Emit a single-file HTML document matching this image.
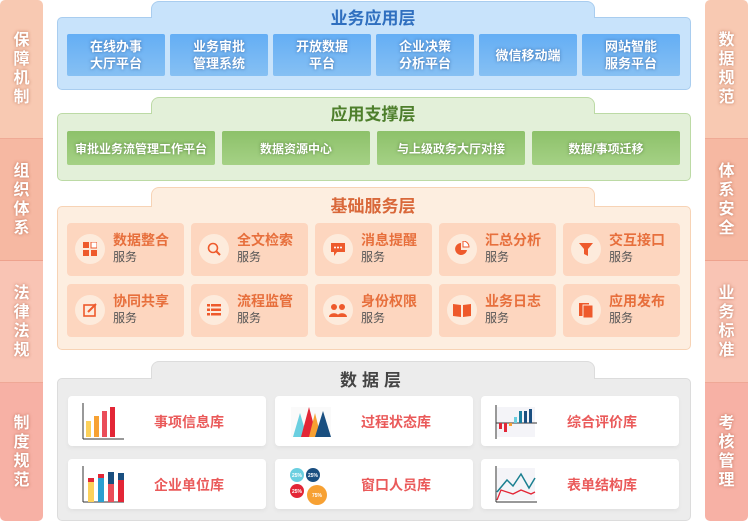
<!DOCTYPE html>
<html><head><meta charset="utf-8"><style>
*{margin:0;padding:0;box-sizing:border-box}
body{width:748px;height:522px;background:#fff;position:relative;overflow:hidden;font-family:"Liberation Sans","Noto Sans CJK SC",sans-serif;font-weight:bold}
.a{position:absolute}
.side{position:absolute;width:43px;border-radius:5px;overflow:hidden;top:0;height:521px}
.seg{position:absolute;left:0;width:43px;display:flex;align-items:center;justify-content:center;color:#fff;font-size:16px;line-height:19px;text-align:center;text-shadow:0 0 3px rgba(150,60,30,.6);border-bottom:1px solid rgba(230,140,120,.5)}
.box{position:absolute;border-radius:5px}
.tab{position:absolute;border-radius:8px 8px 0 0}
.title{position:absolute;font-size:17px;text-align:center}
.bb{position:absolute;top:34px;height:42px;width:98px;background:linear-gradient(#64aef5,#86c0f3);color:#fff;font-size:13px;line-height:17px;display:flex;align-items:center;justify-content:center;text-align:center;text-shadow:0 0 3px rgba(20,60,120,.6);border-radius:2px}
.gb{position:absolute;top:131px;height:34px;width:148px;background:linear-gradient(#8dc16a,#a5d185);color:#fff;font-size:12px;display:flex;align-items:center;justify-content:center;text-shadow:0 0 3px rgba(40,80,20,.6);border-radius:2px}
.oc{position:absolute;width:117px;height:53px;background:#fdd6bf;border-radius:4px}
.oc .ic{position:absolute;left:8px;top:11px;width:30px;height:30px;border-radius:50%;background:#fdebdc;display:flex;align-items:center;justify-content:center}
.oc .t{position:absolute;left:46px;top:9px;font-size:14px;color:#e76f3c;line-height:16px}
.oc .s{position:absolute;left:46px;top:27px;font-size:12px;color:#555;font-weight:normal;line-height:14px}
.dc{position:absolute;width:198px;height:50px;background:#fff;border-radius:4px;box-shadow:0 2px 4px rgba(0,0,0,.05)}
.dc .t{position:absolute;left:86px;top:16px;font-size:14px;color:#ea5a5a}
.dc svg{position:absolute;left:10px;top:7px}
</style></head><body>
<div class="side" style="left:0">
<div class="seg" style="top:0;height:139px;background:#f8c9b2">保<br>障<br>机<br>制</div>
<div class="seg" style="top:139px;height:122px;background:#f6b8a2">组<br>织<br>体<br>系</div>
<div class="seg" style="top:261px;height:122px;background:#f9c4b4">法<br>律<br>法<br>规</div>
<div class="seg" style="top:383px;height:138px;background:#f7b1a5;border:none">制<br>度<br>规<br>范</div>
</div>
<div class="side" style="left:705px">
<div class="seg" style="top:0;height:139px;background:#f8c9b2">数<br>据<br>规<br>范</div>
<div class="seg" style="top:139px;height:122px;background:#f6b8a2">体<br>系<br>安<br>全</div>
<div class="seg" style="top:261px;height:122px;background:#f9c4b4">业<br>务<br>标<br>准</div>
<div class="seg" style="top:383px;height:138px;background:#f7b1a5;border:none">考<br>核<br>管<br>理</div>
</div>

<!-- layer 1 -->
<div class="tab" style="left:151px;top:1px;width:444px;height:20px;background:#c8e3fb;border:1px solid #a9cdef;border-bottom:none"></div>
<div class="box" style="left:57px;top:17px;width:634px;height:73px;background:#c8e3fb;border:1px solid #a9cdef"></div>
<div class="a" style="left:152px;top:16px;width:442px;height:4px;background:#c8e3fb"></div>
<div class="title" style="left:151px;top:4px;width:444px;color:#2f6fbf">业务应用层</div>
<div class="bb" style="left:67px">在线办事<br>大厅平台</div>
<div class="bb" style="left:170px">业务审批<br>管理系统</div>
<div class="bb" style="left:273px">开放数据<br>平台</div>
<div class="bb" style="left:376px">企业决策<br>分析平台</div>
<div class="bb" style="left:479px">微信移动端</div>
<div class="bb" style="left:582px">网站智能<br>服务平台</div>

<!-- layer 2 -->
<div class="tab" style="left:151px;top:97px;width:444px;height:20px;background:#e3f0d9;border:1px solid #bcdaa5;border-bottom:none"></div>
<div class="box" style="left:57px;top:113px;width:634px;height:68px;background:#e3f0d9;border:1px solid #bcdaa5"></div>
<div class="a" style="left:152px;top:112px;width:442px;height:4px;background:#e3f0d9"></div>
<div class="title" style="left:151px;top:100px;width:444px;color:#4e7f2c">应用支撑层</div>
<div class="gb" style="left:67px">审批业务流管理工作平台</div>
<div class="gb" style="left:222px">数据资源中心</div>
<div class="gb" style="left:377px">与上级政务大厅对接</div>
<div class="gb" style="left:532px">数据/事项迁移</div>

<!-- layer 3 -->
<div class="tab" style="left:151px;top:187px;width:444px;height:22px;background:#fdeee0;border:1px solid #f7d3b5;border-bottom:none"></div>
<div class="box" style="left:57px;top:206px;width:634px;height:144px;background:#fdeee0;border:1px solid #f7d3b5"></div>
<div class="a" style="left:152px;top:205px;width:442px;height:4px;background:#fdeee0"></div>
<div class="title" style="left:151px;top:192px;width:444px;color:#d9683a">基础服务层</div>

<div class="oc" style="left:67px;top:223px"><div class="ic"><svg width="14" height="14"><rect x="0" y="0" width="6" height="6" fill="#ee5a2c"/><rect x="8" y="0" width="6" height="6" fill="#fff" stroke="#ee5a2c"/><rect x="0" y="8" width="6" height="6" fill="#ee5a2c"/><rect x="8" y="8" width="6" height="6" fill="#ee5a2c"/></svg></div><div class="t">数据整合</div><div class="s">服务</div></div>
<div class="oc" style="left:191px;top:223px"><div class="ic"><svg width="14" height="14"><circle cx="6" cy="6" r="4.5" fill="none" stroke="#ee5a2c" stroke-width="1.6"/><line x1="9" y1="9" x2="13" y2="13" stroke="#ee5a2c" stroke-width="2"/></svg></div><div class="t">全文检索</div><div class="s">服务</div></div>
<div class="oc" style="left:315px;top:223px"><div class="ic"><svg width="16" height="15"><path d="M1 1h14v9H7l-3 4v-4H1z" fill="#ee5a2c"/><circle cx="5" cy="5.5" r="1" fill="#fff"/><circle cx="8" cy="5.5" r="1" fill="#fff"/><circle cx="11" cy="5.5" r="1" fill="#fff"/></svg></div><div class="t">消息提醒</div><div class="s">服务</div></div>
<div class="oc" style="left:439px;top:223px"><div class="ic"><svg width="16" height="16"><path d="M7 2A6 6 0 1 0 13 9H7z" fill="#ee5a2c"/><path d="M9 0v6h6A6 6 0 0 0 9 0z" fill="#fff" stroke="#ee5a2c"/></svg></div><div class="t">汇总分析</div><div class="s">服务</div></div>
<div class="oc" style="left:563px;top:223px"><div class="ic"><svg width="16" height="16"><path d="M1 2h14l-5 6v7l-4-2V8z" fill="#ee5a2c"/></svg></div><div class="t">交互接口</div><div class="s">服务</div></div>

<div class="oc" style="left:67px;top:284px"><div class="ic"><svg width="14" height="14"><rect x="1" y="2" width="11" height="11" fill="none" stroke="#ee5a2c" stroke-width="1.6"/><line x1="5" y1="9" x2="13" y2="1" stroke="#ee5a2c" stroke-width="2"/></svg></div><div class="t">协同共享</div><div class="s">服务</div></div>
<div class="oc" style="left:191px;top:284px"><div class="ic"><svg width="14" height="12"><rect x="0" y="0" width="3" height="2.5" fill="#ee5a2c"/><rect x="4" y="0" width="10" height="2.5" fill="#ee5a2c"/><rect x="0" y="4.5" width="3" height="2.5" fill="#ee5a2c"/><rect x="4" y="4.5" width="10" height="2.5" fill="#ee5a2c"/><rect x="0" y="9" width="3" height="2.5" fill="#ee5a2c"/><rect x="4" y="9" width="10" height="2.5" fill="#ee5a2c"/></svg></div><div class="t">流程监管</div><div class="s">服务</div></div>
<div class="oc" style="left:315px;top:284px"><div class="ic"><svg width="18" height="14"><circle cx="5" cy="4" r="3" fill="#ee5a2c"/><circle cx="13" cy="4" r="3" fill="#ee5a2c"/><path d="M0 14c0-5 10-5 10 0zM8 14c0-5 10-5 10 0z" fill="#ee5a2c"/></svg></div><div class="t">身份权限</div><div class="s">服务</div></div>
<div class="oc" style="left:439px;top:284px"><div class="ic"><svg width="18" height="14"><path d="M0 1l8 1v12l-8-1zM18 1l-8 1v12l8-1z" fill="#ee5a2c"/></svg></div><div class="t">业务日志</div><div class="s">服务</div></div>
<div class="oc" style="left:563px;top:284px"><div class="ic"><svg width="16" height="16"><rect x="1" y="1" width="10" height="13" fill="#ee5a2c"/><rect x="5" y="3" width="10" height="13" fill="#ee5a2c" stroke="#fdebdc"/></svg></div><div class="t">应用发布</div><div class="s">服务</div></div>

<!-- layer 4 -->
<div class="tab" style="left:151px;top:361px;width:444px;height:20px;background:#ececec;border:1px solid #dcdcdc;border-bottom:none"></div>
<div class="box" style="left:57px;top:378px;width:634px;height:143px;background:#ececec;border:1px solid #dcdcdc"></div>
<div class="a" style="left:152px;top:377px;width:442px;height:4px;background:#ececec"></div>
<div class="title" style="left:151px;top:366px;width:444px;color:#444;letter-spacing:5px">数据层</div>

<div class="dc" style="left:68px;top:396px"><svg width="48" height="38"><line x1="5" y1="0" x2="5" y2="36" stroke="#333"/><line x1="5" y1="36" x2="46" y2="36" stroke="#333"/><rect x="8" y="18" width="5" height="16" fill="#fcd15a"/><rect x="16" y="13" width="5" height="21" fill="#f7a133"/><rect x="24" y="8" width="5" height="26" fill="#ea4d59"/><rect x="32" y="4" width="5" height="30" fill="#e32636"/></svg><div class="t">事项信息库</div></div>
<div class="dc" style="left:275px;top:396px"><svg width="48" height="38"><rect x="6" y="4" width="40" height="30" fill="#fafafa"/><polygon points="8,34 15,10 22,34" fill="#6acfe0"/><polygon points="16,34 24,4 32,34" fill="#e32636"/><polygon points="24,34 30,10 36,34" fill="#f7a133"/><polygon points="30,34 38,8 46,34" fill="#1a4f80"/></svg><div class="t">过程状态库</div></div>
<div class="dc" style="left:481px;top:396px"><svg width="48" height="38"><rect x="6" y="4" width="38" height="30" fill="#f4f4f8"/><line x1="5" y1="2" x2="5" y2="36" stroke="#333"/><line x1="5" y1="20" x2="46" y2="20" stroke="#333"/><rect x="8" y="20" width="3" height="6" fill="#e32636"/><rect x="13" y="20" width="3" height="9" fill="#e32636"/><rect x="18" y="20" width="3" height="3" fill="#f7a133"/><rect x="23" y="14" width="3" height="6" fill="#6acfe0"/><rect x="28" y="8" width="3" height="12" fill="#1a7fa0"/><rect x="33" y="8" width="3" height="12" fill="#1a4f80"/><rect x="38" y="6" width="3" height="14" fill="#1a4f80"/></svg><div class="t">综合评价库</div></div>

<div class="dc" style="left:68px;top:459px"><svg width="48" height="38"><line x1="5" y1="0" x2="5" y2="36" stroke="#333"/><line x1="5" y1="36" x2="46" y2="36" stroke="#333"/><rect x="10" y="16" width="6" height="20" fill="#fcd15a"/><rect x="10" y="12" width="6" height="4" fill="#e32636"/><rect x="20" y="12" width="6" height="24" fill="#2b9fd0"/><rect x="20" y="8" width="6" height="4" fill="#e32636"/><rect x="30" y="18" width="6" height="18" fill="#ea4d59"/><rect x="30" y="6" width="6" height="12" fill="#1a4f80"/><rect x="40" y="14" width="6" height="22" fill="#e32636"/><rect x="40" y="7" width="6" height="7" fill="#1a4f80"/></svg><div class="t">企业单位库</div></div>
<div class="dc" style="left:275px;top:459px"><svg width="48" height="40"><circle cx="12" cy="9" r="7" fill="#6acfe0"/><circle cx="28" cy="9" r="7" fill="#1a4f80"/><circle cx="12" cy="25" r="7" fill="#e32636"/><circle cx="32" cy="29" r="10" fill="#f7a133"/><text x="12" y="11" font-size="5" fill="#fff" text-anchor="middle">25%</text><text x="28" y="11" font-size="5" fill="#fff" text-anchor="middle">25%</text><text x="12" y="27" font-size="5" fill="#fff" text-anchor="middle">25%</text><text x="32" y="31" font-size="5" fill="#fff" text-anchor="middle">75%</text></svg><div class="t">窗口人员库</div></div>
<div class="dc" style="left:481px;top:459px"><svg width="48" height="38"><rect x="6" y="2" width="38" height="32" fill="#f4f4f8"/><line x1="5" y1="0" x2="5" y2="36" stroke="#333"/><line x1="5" y1="36" x2="46" y2="36" stroke="#333"/><polyline points="6,26 16,14 22,20 30,8 38,22 44,12" fill="none" stroke="#1a7f90" stroke-width="1.5"/><polyline points="6,34 10,24 22,28 30,24 40,28 44,26" fill="none" stroke="#e32636" stroke-width="1.3"/></svg><div class="t">表单结构库</div></div>
</body></html>
